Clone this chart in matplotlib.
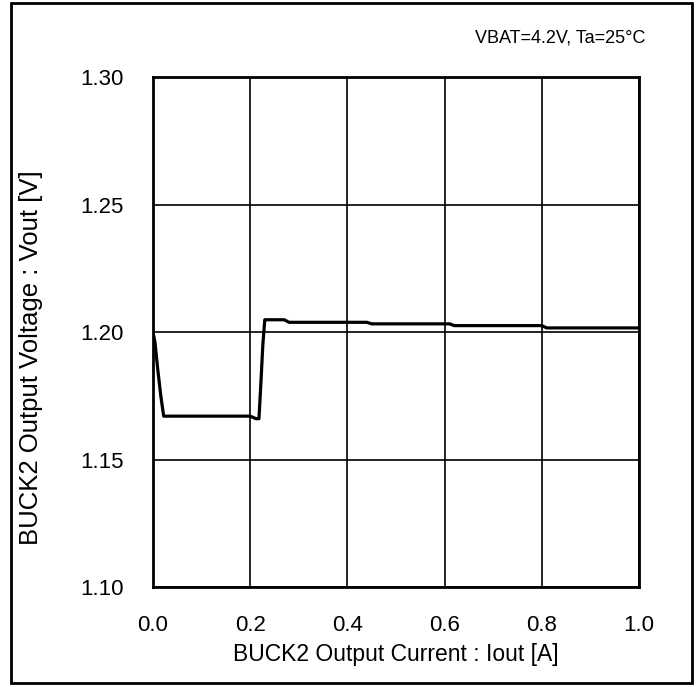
import matplotlib
matplotlib.use("Agg")
import matplotlib.pyplot as plt
from matplotlib.patches import Rectangle

plt.rcParams['font.family'] = ['Liberation Sans', 'DejaVu Sans']

# data
iout = [0.0, 0.004, 0.010, 0.016, 0.022, 0.10, 0.20, 0.212, 0.218, 0.222, 0.226, 0.230,
        0.27, 0.28, 0.44, 0.45, 0.61, 0.62, 0.80, 0.81, 1.0]
vout = [1.200, 1.196, 1.185, 1.175, 1.167, 1.167, 1.167, 1.166, 1.166, 1.180, 1.195, 1.2048,
        1.2048, 1.2038, 1.2038, 1.2032, 1.2032, 1.2025, 1.2025, 1.2016, 1.2016]

xticks = [0.0, 0.2, 0.4, 0.6, 0.8, 1.0]
yticks = [1.10, 1.15, 1.20, 1.25, 1.30]

fig = plt.figure(figsize=(6.99, 6.87), dpi=100)
ax = fig.add_axes([153/699, 1-587/687, (639-153)/699, (587-77)/687])

ax.plot(iout, vout, color='black', lw=2.3, zorder=3)

ax.set_xlim(0, 1.0)
ax.set_ylim(1.10, 1.30)
ax.set_xticks(xticks)
ax.set_yticks(yticks)
ax.set_xticklabels([f"{t:.1f}" for t in xticks], fontsize=16)
ax.set_yticklabels([f"{t:.2f}" for t in yticks], fontsize=16)
ax.tick_params(axis='x', length=0, pad=20)
ax.tick_params(axis='y', length=0, pad=21)
ax.grid(True, color='black', lw=1.2)
for s in ax.spines.values():
    s.set_linewidth(2)

ax.set_xlabel("BUCK2 Output Current : Iout [A]", fontsize=16.5)
ax.set_ylabel("BUCK2 Output Voltage : Vout [V]", fontsize=18.5)
ax.xaxis.label.set_va('center')
ax.yaxis.label.set_va('center')
ax.xaxis.set_label_coords(0.5, -(655-587)/510)
ax.yaxis.set_label_coords((31-153)/486, 1-(358-77)/510)

fig.text(645/699, 1-38/687, "VBAT=4.2V, Ta=25°C", fontsize=13, ha='right', va='center')

fig.patches.append(Rectangle((11/699, 1-683/687), (692-11)/699, (683-3)/687,
                             transform=fig.transFigure, fill=False, lw=2, ec='black'))

fig.savefig("out.png", dpi=100)
